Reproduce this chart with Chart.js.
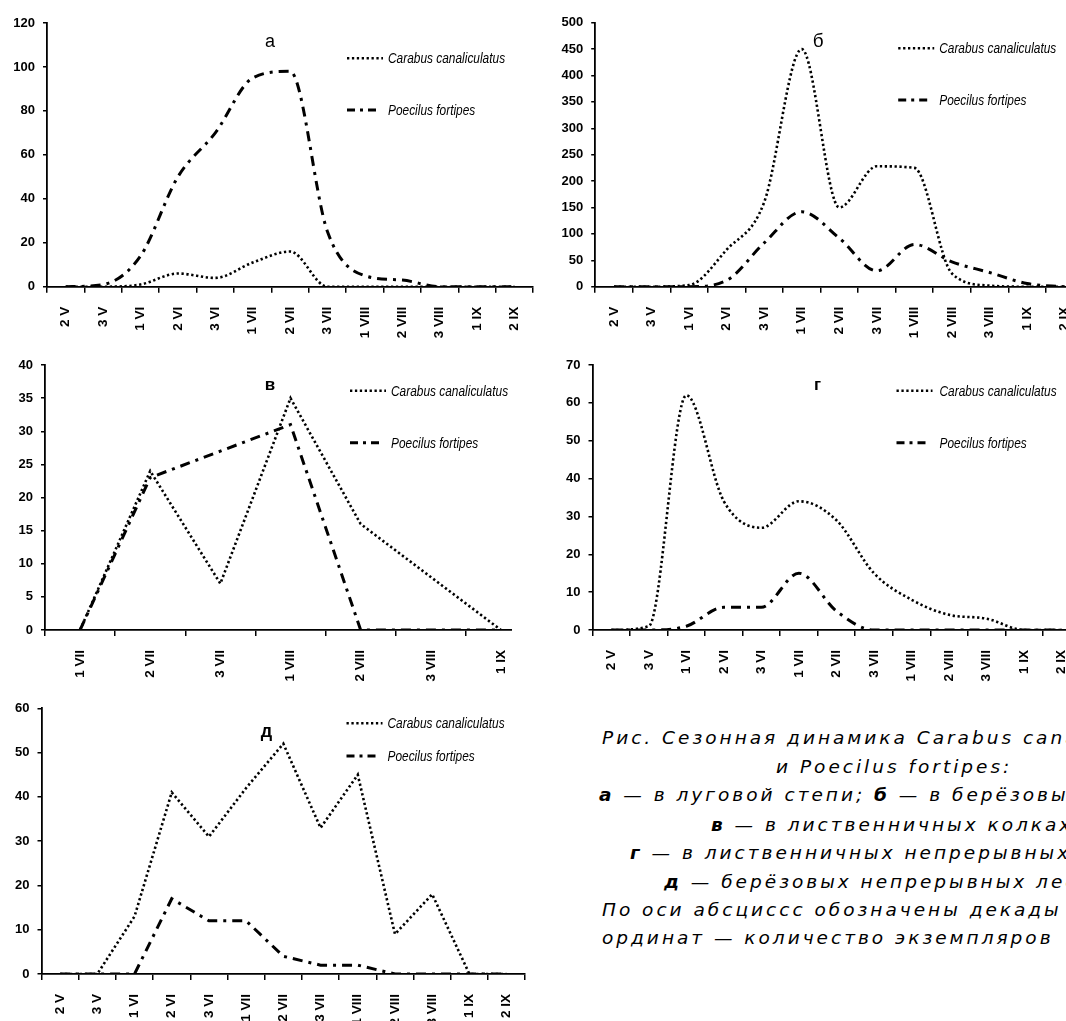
<!DOCTYPE html>
<html><head><meta charset="utf-8">
<script src="https://cdn.jsdelivr.net/npm/chart.js@4.4.0/dist/chart.umd.min.js"></script>
<style>
html,body{margin:0;padding:0;background:#fff;}
body{width:1066px;height:1021px;overflow:hidden;position:relative;}
.panel{position:absolute;overflow:hidden;}
.panel canvas{display:block;}
#caption{position:absolute;left:0;top:0;width:1066px;font-family:'DejaVu Sans',sans-serif;font-style:italic;font-size:18.5px;letter-spacing:3px;color:#000;white-space:nowrap;}
#caption div{position:absolute;line-height:20px;}
#caption b{font-weight:bold;}
</style></head><body>

<div class="panel" style="left:0;top:0;width:545px;height:350px"><canvas id="cA" width="545" height="350"></canvas></div>
<div class="panel" style="left:533px;top:0;width:562px;height:350px"><canvas id="cB" width="562" height="350"></canvas></div>
<div class="panel" style="left:0;top:345px;width:512px;height:345px"><canvas id="cV" width="541" height="345"></canvas></div>
<div class="panel" style="left:533px;top:345px;width:559px;height:345px"><canvas id="cG" width="559" height="345"></canvas></div>
<div class="panel" style="left:0;top:690px;width:537px;height:331px"><canvas id="cD" width="537" height="331"></canvas></div>

<div id="caption">
  <div style="left:602px;top:728px">Рис. Сезонная динамика Carabus canaliculatus</div>
  <div style="left:776px;top:757px">и Poecilus fortipes:</div>
  <div style="left:599px;top:785px"><b>а</b> — в луговой степи; <b>б</b> — в берёзовых</div>
  <div style="left:711px;top:815px"><b>в</b> — в лиственничных колках;</div>
  <div style="left:630px;top:843px"><b>г</b> — в лиственничных непрерывных</div>
  <div style="left:664px;top:872px"><b>д</b> — берёзовых непрерывных лесах</div>
  <div style="left:602px;top:900px">По оси абсциссс обозначены декады</div>
  <div style="left:602px;top:928px">ординат — количество экземпляров</div>
</div>

<script>
// ---- categories (decades of months) ----
const decades = ['2 V','3 V','1 VI','2 VI','3 VI','1 VII','2 VII','3 VII','1 VIII','2 VIII','3 VIII','1 IX','2 IX'];
const decadesV = ['1 VII','2 VII','3 VII','1 VIII','2 VIII','3 VIII','1 IX'];

// ---- series names ----
const seriesNames = ['Carabus canaliculatus', 'Poecilus fortipes'];

// ---- а: луговая степь ----
const carabusA  = [0, 0, 1, 6, 4, 11, 16, 0, 0, 0, 0, 0, 0];
const poecilusA = [0, 1, 14, 50, 70, 95, 98, 25, 5, 3, 0, 0, 0];
// ---- б ----
const carabusB  = [0, 0, 3, 70, 160, 450, 150, 228, 225, 25, 2, 0, 0];
const poecilusB = [0, 0, 0, 12, 83, 142, 92, 30, 80, 47, 27, 6, 0];
// ---- в ----
const carabusV  = [0, 24, 7, 35, 16, 8, 0];
const poecilusV = [0, 23, 27, 31, 0, 0, 0];
// ---- г ----
const carabusG  = [0, 1, 62, 34, 27, 34, 29, 15, 8, 4, 3, 0, 0];
const poecilusG = [0, 0, 1, 6, 6, 15, 5, 0, 0, 0, 0, 0, 0];
// ---- д ----
const carabusD  = [0, 0, 13, 41, 31, 42, 52, 33, 45, 9, 18, 0, 0];
const poecilusD = [0, 0, 0, 17, 12, 12, 4, 2, 2, 0, 0, 0, 0];

// ---- y-axis tick settings ----
const yMaxes = [120, 500, 40, 70, 60];
const ySteps = [20, 50, 5, 10, 10];
const panelLetters = ['а', 'б', 'в', 'г', 'д'];

const FONT = "'Liberation Sans','Arial',sans-serif";

const overlay = {
  id: 'overlay',
  afterDraw(chart, args, o) {
    const ctx = chart.ctx, a = chart.chartArea;
    ctx.save();
    ctx.fillStyle = '#000';
    ctx.font = o.titleFont;
    ctx.textAlign = 'center';
    ctx.textBaseline = 'middle';
    ctx.fillText(o.title, a.left + o.titleX, a.top + o.titleY);
    ctx.textAlign = 'left';
    ctx.font = 'italic 14px ' + FONT;
    chart.data.datasets.forEach((ds, i) => {
      const y = a.top + o.legY[i];
      const x0 = a.left + o.legX;
      ctx.beginPath();
      ctx.setLineDash(o.legDash[i]);
      ctx.lineWidth = ds.borderWidth;
      ctx.strokeStyle = '#000';
      ctx.moveTo(x0, y);
      ctx.lineTo(x0 + o.legLen[i], y);
      ctx.stroke();
      ctx.setLineDash([]);
      ctx.save();
      ctx.translate(a.left + o.textX, y + 1);
      ctx.scale(0.85, 1);
      ctx.fillText(ds.label, 0, 0);
      ctx.restore();
    });
    ctx.restore();
  }
};

function makeChart(id, labels, car, poe, k, g) {
  new Chart(document.getElementById(id), {
    type: 'line',
    data: {
      labels: labels,
      datasets: [
        { label: seriesNames[0], data: car, borderColor: '#000', borderWidth: 2.6,
          borderDash: [2.3, 2.6], pointRadius: 0, tension: g.tension, cubicInterpolationMode: g.mono ? 'monotone' : 'default', fill: false },
        { label: seriesNames[1], data: poe, borderColor: '#000', borderWidth: 3,
          borderDash: [10, 6, 3, 6], pointRadius: 0, tension: g.tension, cubicInterpolationMode: g.mono ? 'monotone' : 'default', fill: false }
      ]
    },
    options: {
      responsive: false, animation: false, devicePixelRatio: 1,
      layout: { padding: { top: g.padTop, right: g.padRight, left: 0, bottom: 0 } },
      plugins: {
        legend: { display: false }, tooltip: { enabled: false },
        overlay: {
          title: panelLetters[k], titleFont: g.titleFont, titleX: g.titleX, titleY: g.titleY,
          legX: g.legX, textX: g.textX, legY: g.legY, legLen: [36, 30],
          legDash: [[2.3, 2.6], [8, 5, 3, 5]]
        }
      },
      scales: {
        x: {
          type: 'category', offset: true,
          ticks: { autoSkip: false, minRotation: 90, maxRotation: 90, color: '#000', padding: 14,
                   font: { family: FONT, size: 13.5, weight: 'bold' } },
          grid: { offset: true, drawOnChartArea: false, drawTicks: true, tickLength: 6, color: '#000', lineWidth: 1.5 },
          border: { display: true, color: '#000', width: 1.8 },
          afterFit(s) { s.height = g.xHeight; }
        },
        y: {
          min: 0, max: yMaxes[k],
          ticks: { stepSize: ySteps[k], color: '#000', padding: 8,
                   font: { family: FONT, size: 13, weight: 'bold' } },
          grid: { drawOnChartArea: false, drawTicks: true, tickLength: 4, color: '#000', lineWidth: 1.5 },
          border: { display: true, color: '#000', width: 1.8 },
          afterFit(s) { s.width = g.yWidth; }
        }
      }
    },
    plugins: [overlay]
  });
}

makeChart('cA', decades, carabusA, poecilusA, 0,
  { tension: 0.4, mono: true, padTop: 23, padRight: 7, yWidth: 47, xHeight: 63.3,
    titleFont: '18px ' + FONT, titleX: 223, titleY: 19, legX: 300, textX: 341, legY: [35.3, 87] });
makeChart('cB', decades, carabusB, poecilusB, 1,
  { tension: 0.4, mono: true, padTop: 22.7, padRight: 5, yWidth: 62.2, xHeight: 63.3,
    titleFont: '19px ' + FONT, titleX: 223, titleY: 19, legX: 303, textX: 344, legY: [25.6, 77.3] });
makeChart('cV', decadesV, carabusV, poecilusV, 2,
  { tension: 0, mono: false, padTop: 20, padRight: 5, yWidth: 45, xHeight: 60,
    titleFont: 'bold 17px ' + FONT, titleX: 225, titleY: 20, legX: 305, textX: 346, legY: [25.7, 77.7] });
makeChart('cG', decades, carabusG, poecilusG, 3,
  { tension: 0.4, mono: true, padTop: 20, padRight: 5, yWidth: 59.5, xHeight: 60,
    titleFont: 'bold 17px ' + FONT, titleX: 225, titleY: 20, legX: 304, textX: 347, legY: [25.7, 77.7] });
makeChart('cD', decades, carabusD, poecilusD, 4,
  { tension: 0, mono: false, padTop: 18.3, padRight: 5, yWidth: 41.5, xHeight: 47,
    titleFont: 'bold 18px ' + FONT, titleX: 225, titleY: 23.4, legX: 305, textX: 346, legY: [15, 47.7] });
</script>
</body></html>
